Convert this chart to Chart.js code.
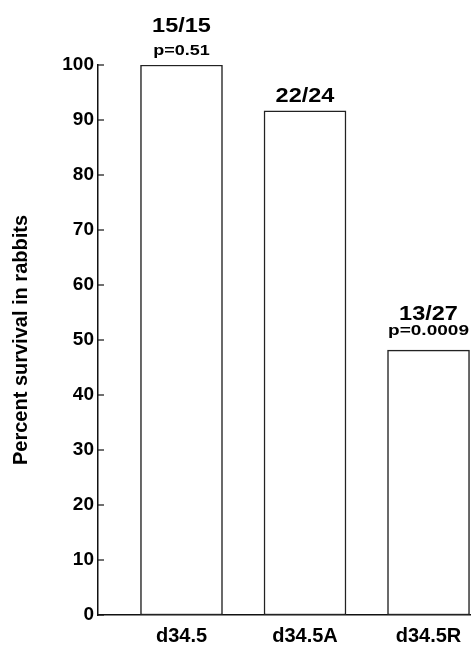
<!DOCTYPE html>
<html>
<head>
<meta charset="utf-8">
<script src="https://cdn.jsdelivr.net/npm/chart.js@4"></script>
<style>
  html, body { margin: 0; padding: 0; background: #fff; }
  #wrap { width: 471px; height: 645px; position: relative; }
</style>
</head>
<body>
<div id="wrap"><canvas id="chart"></canvas></div>
<script>
// data
const groups = ['d34.5', 'd34.5A', 'd34.5R'];
const survival = [100, 91.67, 48.15];
const counts = ['15/15', '22/24', '13/27'];
const pValues = ['p=0.51', '', 'p=0.0009'];
const yTicks = [0, 10, 20, 30, 40, 50, 60, 70, 80, 90, 100];

const FONT = '"Liberation Sans", Arial, Helvetica, sans-serif';

// draw text stretched a little wider, like the scanned figure
function wideText(ctx, text, x, y, stretch) {
    ctx.save();
    ctx.translate(x, y);
    ctx.scale(stretch, 1);
    ctx.fillText(text, 0, 0);
    ctx.restore();
}

// labels above each bar
const barLabels = {
    id: 'barLabels',
    afterDatasetsDraw(chart) {
        const ctx = chart.ctx;
        const meta = chart.getDatasetMeta(0);
        const pGap = [10, 9, 15];
        const cGap = [23, 9, 15];
        ctx.save();
        ctx.fillStyle = '#000';
        ctx.textAlign = 'center';
        ctx.textBaseline = 'alphabetic';
        meta.data.forEach((bar, i) => {
            let y = bar.y - pGap[i];
            if (pValues[i]) {
                ctx.font = 'bold 15px ' + FONT;
                wideText(ctx, pValues[i], bar.x, y, i === 2 ? 1.27 : 1.2);
                y -= cGap[i];
            }
            ctx.font = 'bold 21px ' + FONT;
            wideText(ctx, counts[i], bar.x, y, 1.12);
        });
        ctx.restore();
    }
};

// short inward tick marks on the y axis
const innerTicks = {
    id: 'innerTicks',
    afterDraw(chart) {
        const ctx = chart.ctx;
        const yScale = chart.scales.y;
        const x0 = chart.chartArea.left;
        ctx.save();
        ctx.strokeStyle = '#111';
        ctx.lineWidth = 1.2;
        yTicks.forEach(v => {
            const y = yScale.getPixelForValue(v);
            ctx.beginPath();
            ctx.moveTo(x0, y);
            ctx.lineTo(x0 + 6, y);
            ctx.stroke();
        });
        ctx.restore();
    }
};

new Chart(document.getElementById('chart'), {
    type: 'bar',
    data: {
        datasets: [{
            data: groups.map((g, i) => ({ x: i, y: survival[i] })),
            backgroundColor: '#fff',
            borderColor: '#222',
            borderWidth: 1.5,
            borderSkipped: false,
            barThickness: 82
        }]
    },
    options: {
        responsive: true,
        maintainAspectRatio: false,
        animation: false,
        layout: { padding: { top: 65, right: 0, left: 0, bottom: 0 } },
        plugins: { legend: { display: false }, tooltip: { enabled: false } },
        scales: {
            x: {
                type: 'linear',
                offset: false,
                min: -0.676,
                max: 2.344,
                afterBuildTicks(scale) {
                    scale.ticks = groups.map((g, i) => ({ value: i }));
                },
                afterFit(scale) { scale.height = 30; },
                grid: { display: false, drawTicks: false },
                border: { display: true, color: '#111', width: 1.5 },
                ticks: {
                    padding: 9,
                    color: '#000',
                    font: { family: FONT, size: 20, weight: 'bold' },
                    callback: v => groups[v]
                }
            },
            y: {
                min: 0,
                max: 100,
                afterFit(scale) { scale.width = 98; },
                grid: { display: false, drawTicks: false },
                border: { display: true, color: '#111', width: 1.5 },
                ticks: {
                    stepSize: 10,
                    padding: 4,
                    color: '#000',
                    font: { family: FONT, size: 19, weight: 'bold' }
                },
                title: {
                    display: true,
                    text: 'Percent survival in rabbits',
                    color: '#000',
                    font: { family: FONT, size: 20, weight: 'bold' },
                    padding: { top: 9, bottom: 0 }
                }
            }
        }
    },
    plugins: [barLabels, innerTicks]
});
</script>
</body>
</html>
